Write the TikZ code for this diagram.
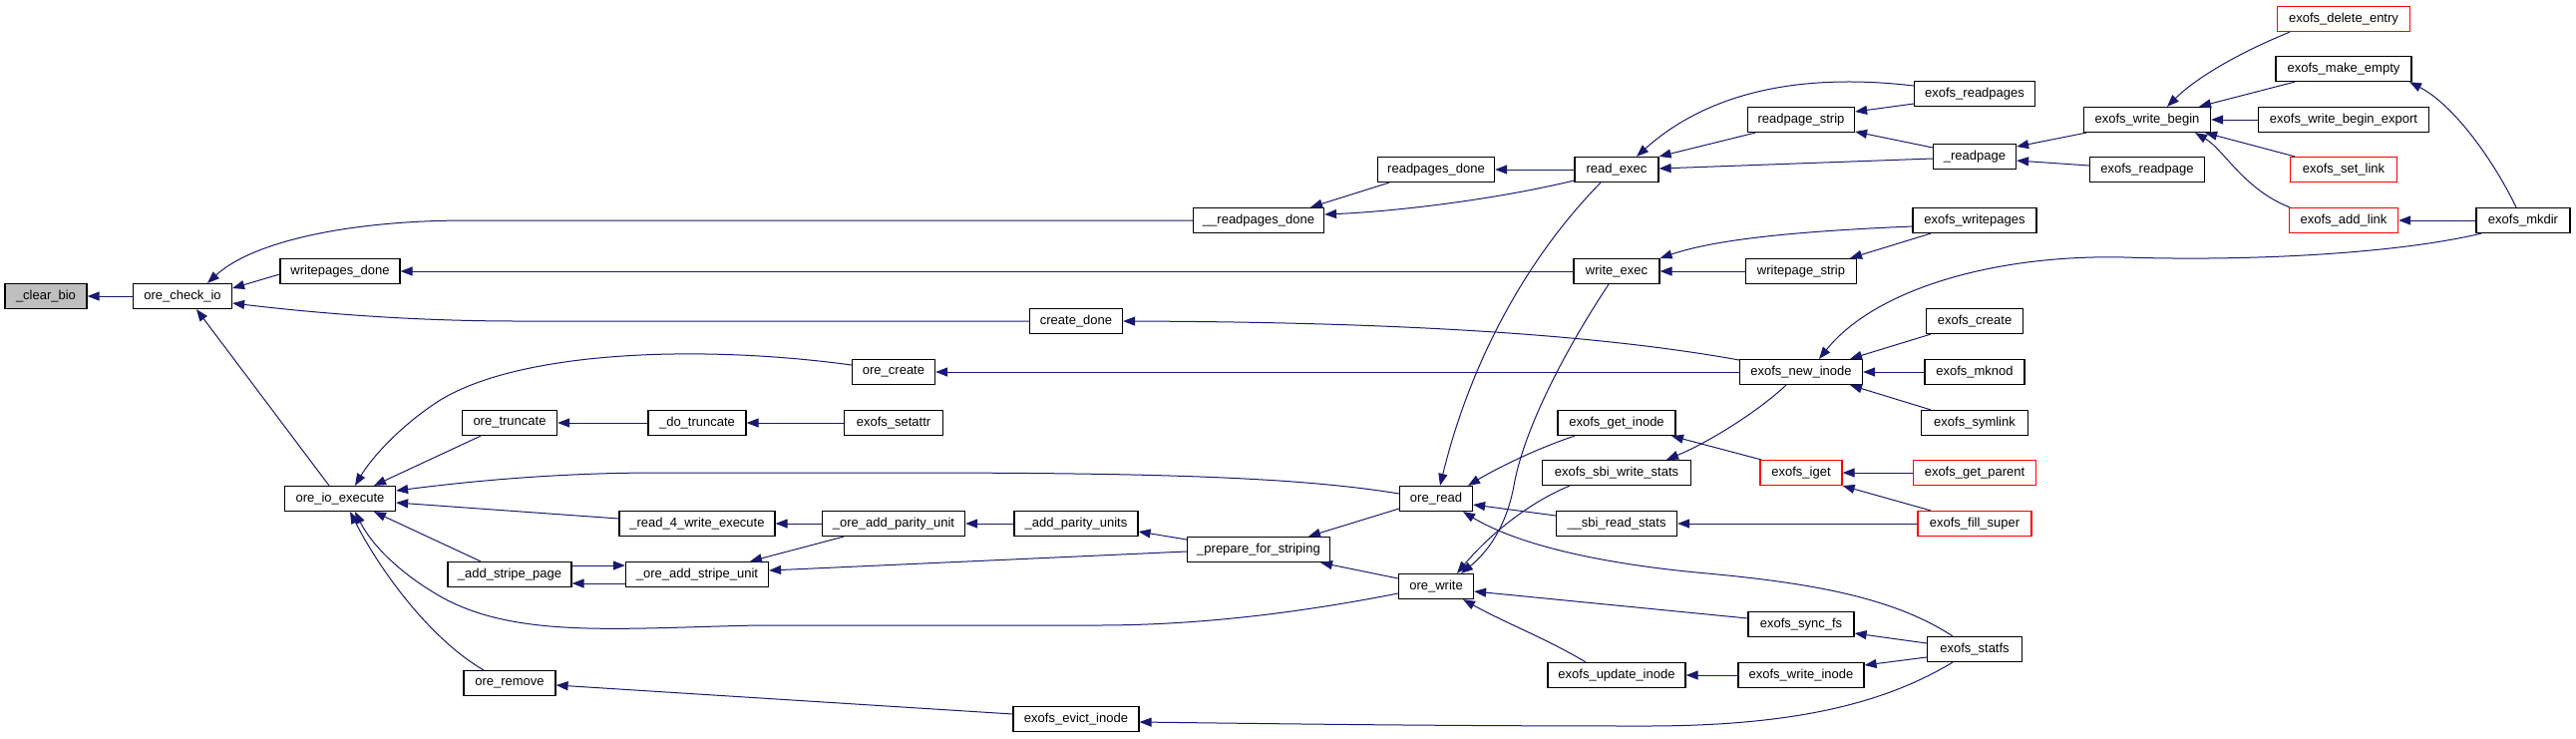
\documentclass[tikz,border=0pt]{standalone}
\usepackage{fontspec}
\setmainfont{Liberation Sans}
\usetikzlibrary{arrows.meta}
\definecolor{edgeblue}{RGB}{25,25,112}
\definecolor{nodered}{RGB}{255,0,0}
\definecolor{rootgray}{RGB}{191,191,191}
\begin{document}
\begin{tikzpicture}[x=1pt,y=-1pt,
 fn/.style={draw=black, line width=1.2pt, fill=white, minimum height=25pt, inner sep=0pt, font=\fontsize{13}{15}\selectfont},
 fnred/.style={fn, draw=nodered},
 fnroot/.style={fn, fill=rootgray},
 edge/.style={draw=edgeblue, line width=1pt, -{Triangle[length=12pt,width=9pt]}}]
\useasboundingbox (0,0) rectangle (2583,740);
% nodes
\node[fnroot, minimum width=82pt] (clearbio) at (46,297) {\_clear\_bio};
\node[fn, minimum width=99pt] (checkio) at (183,297) {ore\_check\_io};
\node[fn, minimum width=120pt] (wpdone) at (341,272) {writepages\_done};
\node[fn, minimum width=111pt] (ioexec) at (341,500) {ore\_io\_execute};
\node[fn, minimum width=131pt] (rpdonetwo) at (1262,221) {\_\_readpages\_done};
\node[fn, minimum width=93pt] (createdone) at (1079,322) {create\_done};
\node[fn, minimum width=83pt] (orecreate) at (896,373) {ore\_create};
\node[fn, minimum width=95pt] (oretrunc) at (511,424) {ore\_truncate};
\node[fn, minimum width=98pt] (dotrunc) at (699,424) {\_do\_truncate};
\node[fn, minimum width=99pt] (setattr) at (896,424) {exofs\_setattr};
\node[fn, minimum width=156pt] (rfw) at (699,525) {\_read\_4\_write\_execute};
\node[fn, minimum width=143pt] (parityunit) at (896,525) {\_ore\_add\_parity\_unit};
\node[fn, minimum width=124pt] (parityunits) at (1079,525) {\_add\_parity\_units};
\node[fn, minimum width=124pt] (stripepage) at (511,576) {\_add\_stripe\_page};
\node[fn, minimum width=143pt] (stripeunit) at (699,576) {\_ore\_add\_stripe\_unit};
\node[fn, minimum width=92pt] (oreremove) at (511,685) {ore\_remove};
\node[fn, minimum width=126pt] (evict) at (1079,721) {exofs\_evict\_inode};
\node[fn, minimum width=143pt] (prep) at (1262,551) {\_prepare\_for\_striping};
\node[fn, minimum width=117pt] (rpdone) at (1440,170) {readpages\_done};
\node[fn, minimum width=84pt] (readexec) at (1621,170) {read\_exec};
\node[fn, minimum width=86pt] (writeexec) at (1621,272) {write\_exec};
\node[fn, minimum width=111pt] (wpstrip) at (1806,272) {writepage\_strip};
\node[fn, minimum width=107pt] (rpstrip) at (1806,120) {readpage\_strip};
\node[fn, minimum width=123pt] (newinode) at (1806,373) {exofs\_new\_inode};
\node[fn, minimum width=118pt] (getinode) at (1621,424) {exofs\_get\_inode};
\node[fn, minimum width=149pt] (sbiws) at (1621,474) {exofs\_sbi\_write\_stats};
\node[fn, minimum width=73pt] (oreread) at (1440,500) {ore\_read};
\node[fn, minimum width=121pt] (sbirs) at (1621,525) {\_\_sbi\_read\_stats};
\node[fnred, minimum width=82pt] (iget) at (1806,474) {exofs\_iget};
\node[fn, minimum width=75pt] (orewrite) at (1440,588) {ore\_write};
\node[fn, minimum width=106pt] (syncfs) at (1806,626) {exofs\_sync\_fs};
\node[fn, minimum width=138pt] (updinode) at (1621,677) {exofs\_update\_inode};
\node[fn, minimum width=126pt] (wrinode) at (1806,677) {exofs\_write\_inode};
\node[fn, minimum width=121pt] (readpages) at (1980,94) {exofs\_readpages};
\node[fn, minimum width=83pt] (ureadpage) at (1980,157) {\_readpage};
\node[fn, minimum width=127pt] (writebegin) at (2153,120) {exofs\_write\_begin};
\node[fn, minimum width=115pt] (readpage) at (2153,170) {exofs\_readpage};
\node[fn, minimum width=124pt] (writepages) at (1980,221) {exofs\_writepages};
\node[fnred, minimum width=133pt] (delentry) at (2350,19) {exofs\_delete\_entry};
\node[fn, minimum width=136pt] (makeempty) at (2350,69) {exofs\_make\_empty};
\node[fn, minimum width=171pt] (wbexport) at (2350,120) {exofs\_write\_begin\_export};
\node[fnred, minimum width=107pt] (setlink) at (2350,170) {exofs\_set\_link};
\node[fnred, minimum width=109pt] (addlink) at (2350,221) {exofs\_add\_link};
\node[fn, minimum width=94pt] (mkdir) at (2530,221) {exofs\_mkdir};
\node[fn, minimum width=97pt] (excreate) at (1980,322) {exofs\_create};
\node[fn, minimum width=100pt] (mknod) at (1980,373) {exofs\_mknod};
\node[fn, minimum width=107pt] (symlink) at (1980,424) {exofs\_symlink};
\node[fnred, minimum width=123pt] (getparent) at (1980,474) {exofs\_get\_parent};
\node[fnred, minimum width=114pt] (fillsuper) at (1980,525) {exofs\_fill\_super};
\node[fn, minimum width=95pt] (statfs) at (1980,651) {exofs\_statfs};
% edges
\draw[edge] (checkio.west) -- (clearbio.east);
\draw[edge] ([shift={(0,3)}]wpdone.west) -- ([shift={(0,-8)}]checkio.east);
\draw[edge] (rpdonetwo.west) -- (470,221) .. controls (340,221) and (250,245) .. ([shift={(25,0)}]checkio.north);
\draw[edge] (createdone.west) -- (520,322) .. controls (400,322) and (300,312) .. ([shift={(0,7)}]checkio.east);
\draw[edge] ([shift={(-11,0)}]ioexec.north) -- ([shift={(14,0)}]checkio.south);
\draw[edge] ([shift={(0,-7)}]orecreate.west) .. controls (700,345) and (520,352) .. (440,402) .. controls (400,428) and (372,460) .. ([shift={(15,0)}]ioexec.north);
\draw[edge] ([shift={(-29,0)}]oretrunc.south) -- ([shift={(34,0)}]ioexec.north);
\draw[edge] ([shift={(0,-5)}]oreread.west) .. controls (1300,478) and (1150,474) .. (900,474) -- (660,474) .. controls (550,474) and (460,484) .. ([shift={(0,-8)}]ioexec.east);
\draw[edge] ([shift={(0,-5)}]rfw.west) -- ([shift={(0,4)}]ioexec.east);
\draw[edge] ([shift={(-29,0)}]stripepage.north) -- ([shift={(34,0)}]ioexec.south);
\draw[edge] ([shift={(0,7)}]orewrite.west) .. controls (1300,615) and (1200,627) .. (1100,627) -- (760,627) .. controls (620,630) and (520,640) .. (445,600) .. controls (400,575) and (372,545) .. ([shift={(15,0)}]ioexec.south);
\draw[edge] ([shift={(-26,0)}]oreremove.north) .. controls (430,640) and (380,570) .. ([shift={(10,0)}]ioexec.south);
\draw[edge] (dotrunc.west) -- (oretrunc.east);
\draw[edge] (setattr.west) -- (dotrunc.east);
\draw[edge] ([shift={(0,-9)}]stripepage.east) -- ([shift={(0,-9)}]stripeunit.west);
\draw[edge] ([shift={(0,9)}]stripeunit.west) -- ([shift={(0,9)}]stripepage.east);
\draw[edge] (parityunit.west) -- (rfw.east);
\draw[edge] ([shift={(-50,0)}]parityunit.south) -- ([shift={(53,0)}]stripeunit.north);
\draw[edge] (parityunits.west) -- (parityunit.east);
\draw[edge] ([shift={(0,-10)}]prep.west) -- ([shift={(0,8)}]parityunits.east);
\draw[edge] ([shift={(0,2)}]prep.west) -- ([shift={(0,-4)}]stripeunit.east);
\draw[edge] ([shift={(0,10)}]oreread.west) -- ([shift={(50,0)}]prep.north);
\draw[edge] ([shift={(0,-8)}]orewrite.west) -- ([shift={(62,0)}]prep.south);
\draw[edge] ([shift={(0,-5)}]evict.west) -- ([shift={(0,2)}]oreremove.east);
\draw[edge] (newinode.west) -- (orecreate.east);
\draw[edge] ([shift={(0,-12)}]newinode.west) .. controls (1600,335) and (1400,323) .. (createdone.east);
\draw[edge] ([shift={(-47,0)}]rpdone.south) -- ([shift={(52,0)}]rpdonetwo.north);
\draw[edge] (readexec.west) -- (rpdone.east);
\draw[edge] ([shift={(0,11)}]readexec.west) .. controls (1500,200) and (1400,212) .. ([shift={(0,-6)}]rpdonetwo.east);
\draw[edge] (writeexec.west) -- (wpdone.east);
\draw[edge] ([shift={(-16,0)}]readexec.south) .. controls (1520,270) and (1470,380) .. ([shift={(4,0)}]oreread.north);
\draw[edge] ([shift={(-8,0)}]writeexec.south) .. controls (1570,350) and (1528,430) .. (1518,487) .. controls (1510,530) and (1490,555) .. ([shift={(25,0)}]orewrite.north);
\draw[edge] ([shift={(-46,0)}]rpstrip.south) -- (readexec.north east);
\draw[edge] ([shift={(0,2)}]ureadpage.west) -- ([shift={(0,-1)}]readexec.east);
\draw[edge] ([shift={(0,-8)}]readpages.west) .. controls (1800,72) and (1710,95) .. ([shift={(20,0)}]readexec.north);
\draw[edge] ([shift={(0,10)}]readpages.west) -- ([shift={(0,-8)}]rpstrip.east);
\draw[edge] ([shift={(0,-9)}]ureadpage.west) -- ([shift={(0,12)}]rpstrip.east);
\draw[edge] ([shift={(0,6)}]writepages.west) .. controls (1800,232) and (1720,240) .. (writeexec.north east);
\draw[edge] ([shift={(-44,0)}]writepages.south) -- ([shift={(49,0)}]wpstrip.north);
\draw[edge] (wpstrip.west) -- (writeexec.east);
\draw[edge] ([shift={(-42,0)}]getinode.south) .. controls (1540,450) and (1500,470) .. ([shift={(32,0)}]oreread.north);
\draw[edge] ([shift={(0,-8)}]sbirs.west) -- ([shift={(0,6)}]oreread.east);
\draw[edge] ([shift={(-22,0)}]statfs.north) .. controls (1900,600) and (1820,585) .. (1712,575) .. controls (1600,565) and (1520,545) .. ([shift={(27,0)}]oreread.south);
\draw[edge] ([shift={(-47,0)}]sbiws.south) .. controls (1530,505) and (1490,540) .. ([shift={(21,0)}]orewrite.north);
\draw[edge] ([shift={(0,-6)}]syncfs.west) -- ([shift={(0,5)}]orewrite.east);
\draw[edge] ([shift={(-31,0)}]updinode.north) .. controls (1550,640) and (1510,625) .. ([shift={(27,0)}]orewrite.south);
\draw[edge] (wrinode.west) -- (updinode.east);
\draw[edge] ([shift={(0,-6)}]statfs.west) -- ([shift={(0,9)}]syncfs.east);
\draw[edge] ([shift={(0,8)}]statfs.west) -- ([shift={(0,-10)}]wrinode.east);
\draw[edge] ([shift={(-22,0)}]statfs.south) .. controls (1890,705) and (1800,728) .. (1650,728) .. controls (1450,728) and (1300,726) .. ([shift={(0,3)}]evict.east);
\draw[edge] ([shift={(-40,0)}]iget.north) -- ([shift={(55,0)}]getinode.south);
\draw[edge] ([shift={(-15,0)}]newinode.south) .. controls (1760,415) and (1710,445) .. ([shift={(50,0)}]sbiws.north);
\draw[edge] (getparent.west) -- (iget.east);
\draw[edge] ([shift={(-44,0)}]fillsuper.north) -- (iget.south east);
\draw[edge] (fillsuper.west) -- (sbirs.east);
\draw[edge] ([shift={(-44,0)}]excreate.south) -- ([shift={(49,0)}]newinode.north);
\draw[edge] (mknod.west) -- (newinode.east);
\draw[edge] ([shift={(-44,0)}]symlink.north) -- ([shift={(49,0)}]newinode.south);
\draw[edge] ([shift={(-42,0)}]mkdir.south) .. controls (2400,255) and (2250,262) .. (2130,258) .. controls (2000,255) and (1880,290) .. ([shift={(18,0)}]newinode.north);
\draw[edge] ([shift={(3,0)}]writebegin.south west) -- ([shift={(0,-10)}]ureadpage.east);
\draw[edge] ([shift={(0,-4)}]readpage.west) -- ([shift={(0,4)}]ureadpage.east);
\draw[edge] ([shift={(-54,0)}]delentry.south) .. controls (2240,55) and (2200,80) .. ([shift={(20,0)}]writebegin.north);
\draw[edge] ([shift={(-49,0)}]makeempty.south) -- ([shift={(52,0)}]writebegin.north);
\draw[edge] (wbexport.west) -- (writebegin.east);
\draw[edge] ([shift={(-49,0)}]setlink.north) -- ([shift={(-6,0)}]writebegin.south east);
\draw[edge] ([shift={(-54,0)}]addlink.north) .. controls (2250,190) and (2230,150) .. ([shift={(48,0)}]writebegin.south);
\draw[edge] (mkdir.west) -- (addlink.east);
\draw[edge] ([shift={(-7,0)}]mkdir.north) .. controls (2500,160) and (2460,105) .. ([shift={(66,0)}]makeempty.south);
\end{tikzpicture}
\end{document}
